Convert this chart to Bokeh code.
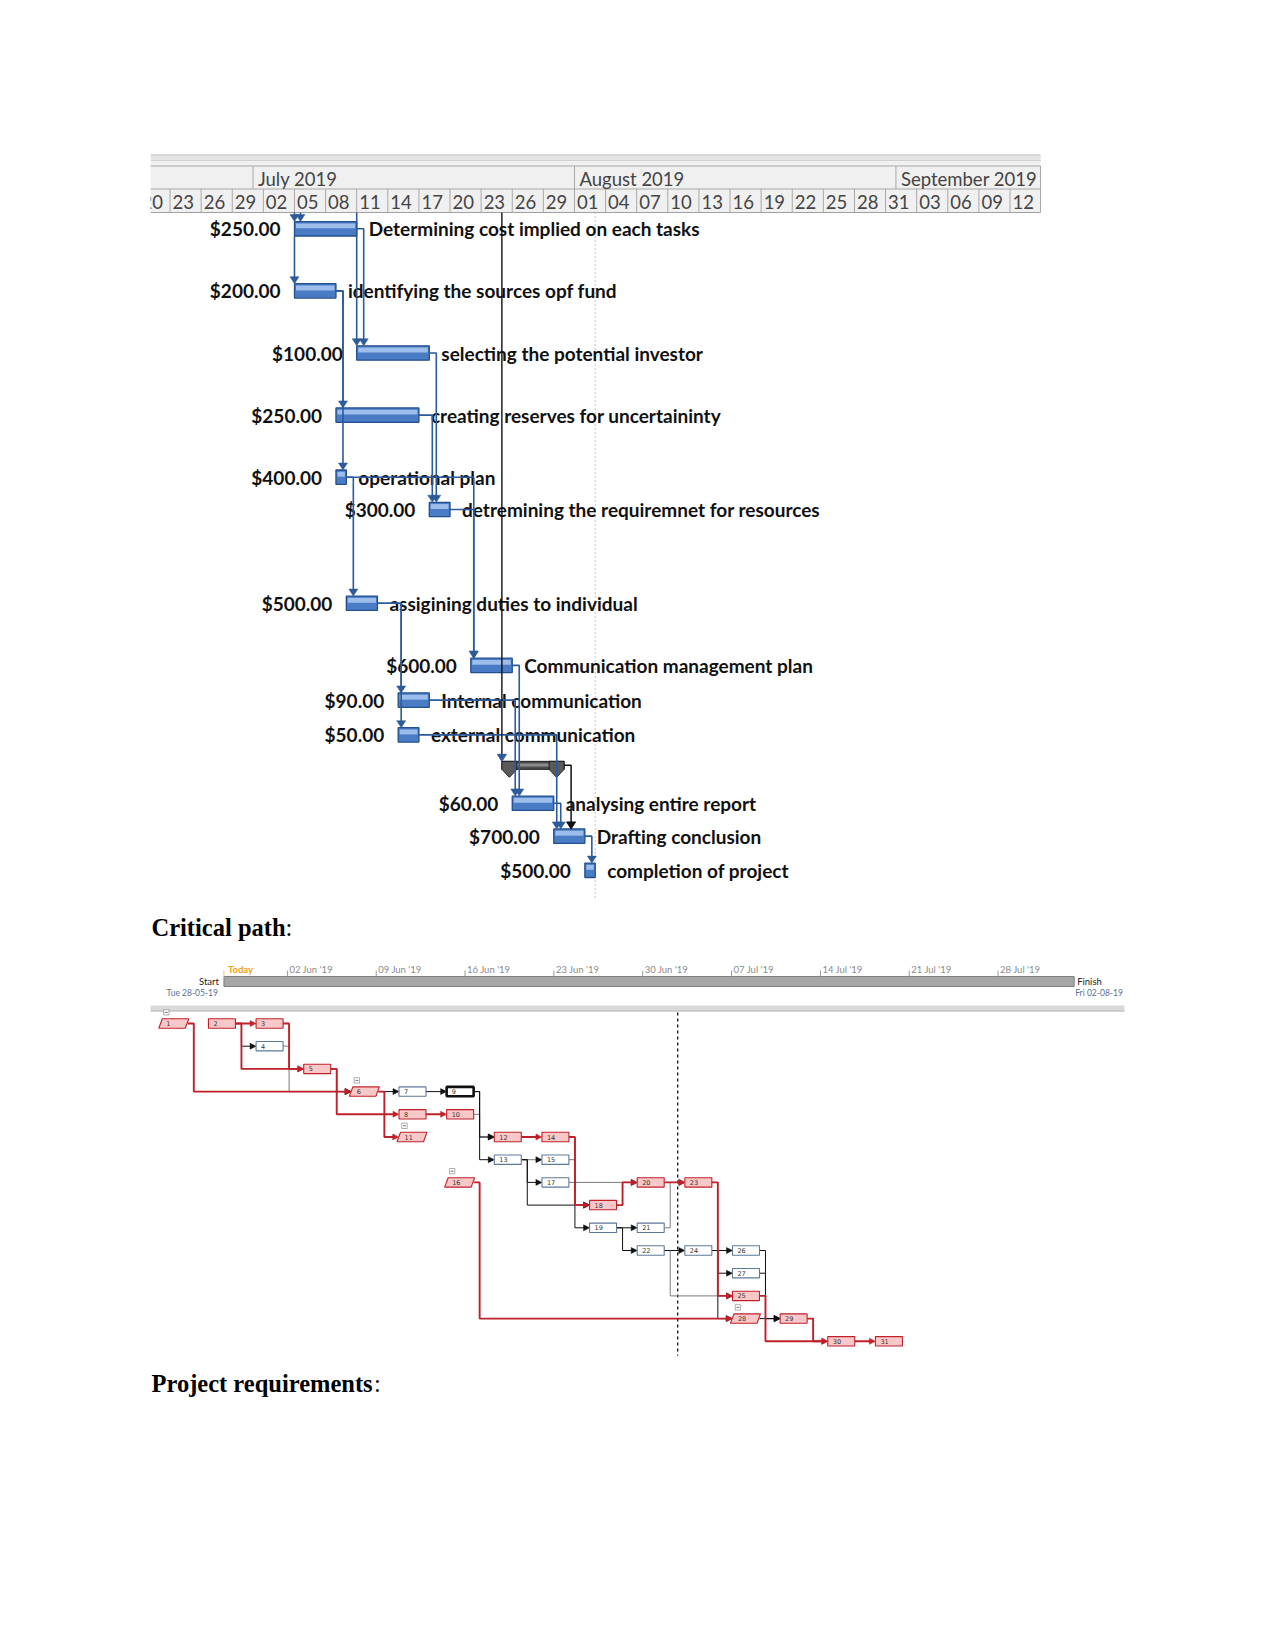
import numpy as np
import pandas as pd
from bokeh.plotting import figure
from bokeh.models import Range1d
from bokeh.core.properties import value
from bokeh.embed import file_html
from bokeh.resources import INLINE

# ======================= DATA =======================
# --- Gantt chart (top) ---
task_names = [
    "Determining cost implied on each tasks",
    "identifying the sources opf fund",
    "selecting the potential investor",
    "creating reserves for uncertaininty",
    "operational plan",
    "detremining the requiremnet for resources",
    "assigining duties to individual",
    "Communication management plan",
    "Internal communication",
    "external communication",
    "analysing entire report",
    "Drafting conclusion",
    "completion of project",
]
task_costs = ["$250.00", "$200.00", "$100.00", "$250.00", "$400.00", "$300.00",
              "$500.00", "$600.00", "$90.00", "$50.00", "$60.00", "$700.00", "$500.00"]
task_start = ["2019-07-05", "2019-07-05", "2019-07-11", "2019-07-09", "2019-07-09", "2019-07-18",
              "2019-07-10", "2019-07-22", "2019-07-15", "2019-07-15", "2019-07-26", "2019-07-30",
              "2019-08-02"]
task_finish = ["2019-07-11", "2019-07-09", "2019-07-18", "2019-07-17", "2019-07-10", "2019-07-20",
               "2019-07-13", "2019-07-26", "2019-07-18", "2019-07-17", "2019-07-30", "2019-08-02",
               "2019-08-03"]
task_row = [0, 1, 2, 3, 4, 4.52, 6.03, 7.03, 7.59, 8.15, 9.25, 9.78, 10.33]
summary_start = "2019-07-25"
summary_finish = "2019-07-31"
summary_row = 8.64
gantt_links = [(1, 2, "SS"), (1, 3, "FS"), (2, 4, "FS"), (2, 5, "FS"), (3, 6, "FS"), (4, 6, "FS"),
               (5, 7, "FS"), (5, 8, "FS"), (6, 8, "FS"), (7, 9, "FS"), (7, 10, "FS"), (8, 11, "FS"),
               (9, 11, "FS"), (10, 12, "FS"), (11, 12, "FS"), (12, 13, "FS")]
external_pred_tasks = [1, 1, 3]          # tasks whose predecessors lie above the view
status_date = "2019-07-25"
finish_marker_date = "2019-08-03"
header_months = ["July 2019", "August 2019", "September 2019"]
header_month_start = ["2019-07-01", "2019-08-01", "2019-09-01"]
header_days = ["2019-06-20", "2019-06-23", "2019-06-26", "2019-06-29", "2019-07-02", "2019-07-05",
               "2019-07-08", "2019-07-11", "2019-07-14", "2019-07-17", "2019-07-20", "2019-07-23",
               "2019-07-26", "2019-07-29", "2019-08-01", "2019-08-04", "2019-08-07", "2019-08-10",
               "2019-08-13", "2019-08-16", "2019-08-19", "2019-08-22", "2019-08-25", "2019-08-28",
               "2019-08-31", "2019-09-03", "2019-09-06", "2019-09-09", "2019-09-12"]

# --- headings ---
heading_texts = ["Critical path", "Project requirements"]

# --- timeline ---
tl_start = "2019-05-28"
tl_finish = "2019-08-02"
tl_today = "2019-05-28"
tl_ticks = ["2019-06-02", "2019-06-09", "2019-06-16", "2019-06-23", "2019-06-30",
            "2019-07-07", "2019-07-14", "2019-07-21", "2019-07-28"]

# --- network diagram (critical path) ---
net_id = list(range(1, 32))
net_col = [0, 1, 2, 2, 3, 4, 5, 5, 6, 6, 5, 7, 7, 8, 8, 6, 8, 9, 9, 10, 10, 10, 11, 11, 12, 12, 12, 12, 13, 14, 15]
net_row = [0, 0, 0, 1, 2, 3, 3, 4, 3, 4, 5, 5, 6, 5, 6, 7, 7, 8, 9, 7, 9, 10, 7, 10, 12, 10, 11, 13, 13, 14, 14]
net_summary = [1, 6, 11, 16, 28]
net_critical = [1, 2, 3, 5, 6, 8, 10, 11, 12, 14, 16, 18, 20, 23, 25, 28, 29, 30, 31]
net_selected = 9
net_links = [(1, 6, "r"), (2, 3, "r"), (2, 4, "k"), (2, 5, "r"), (3, 5, "r"), (4, 6, "g"), (5, 6, "k"),
             (5, 8, "r"), (6, 7, "k"), (6, 11, "r"), (7, 9, "k"), (8, 10, "r"), (9, 12, "k"), (9, 13, "k"),
             (10, 12, "g"), (12, 14, "r"), (13, 15, "g"), (13, 17, "k"), (13, 18, "k"), (14, 18, "r"),
             (14, 19, "k"), (15, 18, "g"), (16, 28, "r"), (17, 20, "g"), (18, 20, "r"), (19, 21, "k"),
             (19, 22, "k"), (20, 23, "r"), (21, 23, "g"), (22, 24, "k"), (22, 25, "g"), (23, 25, "r"),
             (24, 26, "k"), (24, 27, "k"), (24, 28, "k"), (26, 29, "k"), (27, 29, "k"), (25, 30, "r"),
             (28, 29, "k"), (29, 30, "r"), (30, 31, "r")]

# ======================= LAYOUT / SCALES =======================
W, H = 1259, 1600
PX0, PY0 = 0, 0                # page position of the canvas origin
G_X0, G_PXD = 252.5, 10.37     # gantt: page x of 1 Jul 2019, px per day
G_Y0, G_PXR = 228.3, 62.1      # gantt: page y of row 0, px per row
T_X0, T_PXD = 286.9, 12.69     # timeline: page x of 2 Jun 2019, px per day
N_X0, N_PXC = 160.3, 47.64     # network: page x of column 0, px per column
N_Y0, N_PXR = 1023.0, 22.7     # network: page y of row 0, px per row


def xr(origin, scale):
    return Range1d(start=(PX0 - origin) / scale, end=(PX0 + W - origin) / scale)


def yr(origin, scale):
    return Range1d(start=(PY0 + H - origin) / scale, end=(PY0 - origin) / scale)


G0 = pd.Timestamp("2019-07-01")
T0 = pd.Timestamp("2019-06-02")


def gday(s):
    return (pd.Timestamp(s) - G0) / pd.Timedelta(days=1)


def tday(s):
    return (pd.Timestamp(s) - T0) / pd.Timedelta(days=1)


p = figure(width=W, height=H, x_range=xr(0, 1), y_range=yr(0, 1),
           x_axis_type=None, y_axis_type=None, toolbar_location=None,
           output_backend="svg", min_border=0, outline_line_color=None,
           background_fill_color="white", border_fill_color="white")
p.extra_x_ranges = {"g": xr(G_X0, G_PXD), "t": xr(T_X0, T_PXD), "n": xr(N_X0, N_PXC)}
p.extra_y_ranges = {"g": yr(G_Y0, G_PXR), "n": yr(N_Y0, N_PXR)}

LATO = value("Lato")
SERIF = value("Liberation Serif")

# ======================= GANTT HEADER =======================
gk = dict(x_range_name="g")
hl = (150 - G_X0) / G_PXD
hr = (1040 - G_X0) / G_PXD
p.quad(left=[hl], right=[hr], top=[154], bottom=[212], fill_color="#f0f0f0", line_color=None, **gk)
p.quad(left=[hl], right=[hr], top=[154], bottom=[160], fill_color="#e4e4e4", line_color=None, **gk)
p.multi_line(xs=[[hl, hr]] * 5, ys=[[154.5, 154.5], [160, 160], [165.5, 165.5], [188.5, 188.5], [212, 212]],
             line_color=["#c8c8c8", "#d0d0d0", "#a8a8a8", "#a8a8a8", "#a0a0a0"],
             line_width=[1, 1, 1, 1, 1.2], **gk)
ms = np.array([gday(s) for s in header_month_start])
p.segment(x0=ms, y0=165.5, x1=ms, y1=188.5, line_color="#a8a8a8", line_width=1, **gk)
p.text(x=ms, y=178, text=header_months, x_offset=5, text_baseline="middle", text_align="left",
       text_font=LATO, text_font_size="18.5px", text_color="#444444", **gk)
ds = np.array([gday(s) for s in header_days])
p.segment(x0=ds, y0=188.5, x1=ds, y1=212, line_color="#a8a8a8", line_width=1, **gk)
p.segment(x0=[hr], y0=[165.5], x1=[hr], y1=[212], line_color="#a8a8a8", line_width=1, **gk)
p.text(x=ds, y=201, text=[pd.Timestamp(s).strftime("%d") for s in header_days], x_offset=2.5,
       text_baseline="middle", text_align="left", text_font=LATO, text_font_size="18.5px",
       text_color="#444444", **gk)
# clip header at its left edge
p.quad(left=[PX0], right=[150], top=[150], bottom=[214], fill_color="white", line_color=None)

# ======================= GANTT BODY =======================
gg = dict(x_range_name="g", y_range_name="g")
gs = np.array([gday(s) for s in task_start])
gf = np.array([gday(s) for s in task_finish])
gr = np.array(task_row, float)
hb = 7.2 / G_PXR
hdr_bottom = (212 - G_Y0) / G_PXR

# finish marker (dotted)
fd = gday(finish_marker_date)
p.segment(x0=[fd], y0=[hdr_bottom], x1=[fd], y1=[(900 - G_Y0) / G_PXR], line_color="#9a9a9a",
          line_width=1.2, line_dash="1 3", **gg)

# bars
p.quad(left=gs, right=gf, top=gr - hb, bottom=gr + hb, fill_color="#4a7cc6", line_color="#234f8e",
       line_width=1.3, **gg)
p.quad(left=gs + 1.5 / G_PXD, right=gf - 1.5 / G_PXD, top=gr - hb + 1.8 / G_PXR, bottom=gr - 0.5 / G_PXR,
       fill_color="#9dbdea", line_color=None, **gg)

# summary bar
ss, sf, sr = gday(summary_start), gday(summary_finish), summary_row
sh = 4.0 / G_PXR
p.quad(left=[ss], right=[sf], top=[sr - sh], bottom=[sr + sh], fill_color="#4d4d4d", line_color="#1e1e1e",
       line_width=1, **gg)
p.quad(left=[ss + 10 / G_PXD], right=[sf - 10 / G_PXD], top=[sr - 1.8 / G_PXR], bottom=[sr + 1.2 / G_PXR],
       fill_color="#8c8c8c", line_color=None, **gg)
fx, fy = [], []
for x0, sgn in [(ss, 1), (sf, -1)]:
    a = x0
    b = x0 + sgn * 15 / G_PXD
    m = x0 + sgn * 7.5 / G_PXD
    fx.append([a, b, b, m, a])
    fy.append([sr - sh, sr - sh, sr + sh, sr + sh + 8 / G_PXR, sr + sh])
p.patches(xs=fx, ys=fy, fill_color="#5a5a5a", line_color="#1e1e1e", line_width=1, **gg)

# texts
p.text(x=gs, y=gr, text=task_costs, x_offset=-14, text_align="right", text_baseline="middle",
       text_font=LATO, text_font_style="bold", text_font_size="19px", text_color="#111111", **gg)
p.text(x=gf, y=gr, text=task_names, x_offset=12, text_align="left", text_baseline="middle",
       text_font=LATO, text_font_style="bold", text_font_size="19px", text_color="#111111", **gg)

# links
BLUE = "#2d5a98"
lx, ly, axs, ays = [], [], [], []


def down_arrow(x, ytip):
    w, h = 4.5, 7.0
    return [x - w / G_PXD, x + w / G_PXD, x], [ytip - h / G_PXR, ytip - h / G_PXR, ytip]


for a, b, kind in gantt_links:
    i, j = a - 1, b - 1
    tip = gr[j] - hb
    if kind == "SS":
        vx = gs[i]
        lx.append([vx, vx])
        ly.append([gr[i] + hb, tip - 5 / G_PXR])
    else:
        vx = max(gf[i] + 7 / G_PXD, gs[j] + 3 / G_PXD)
        lx.append([gf[i], vx, vx])
        ly.append([gr[i], gr[i], tip - 5 / G_PXR])
    ax_, ay_ = down_arrow(vx, tip)
    axs.append(ax_)
    ays.append(ay_)

seen = {}
for t in external_pred_tasks:
    j = t - 1
    k = seen.get(t, 0)
    seen[t] = k + 1
    vx = gs[j] + k * 6 / G_PXD
    tip = gr[j] - hb
    lx.append([vx, vx])
    ly.append([hdr_bottom, tip - 5 / G_PXR])
    ax_, ay_ = down_arrow(vx, tip)
    axs.append(ax_)
    ays.append(ay_)

p.multi_line(xs=lx, ys=ly, line_color=BLUE, line_width=1.6, **gg)
p.patches(xs=axs, ys=ays, fill_color=BLUE, line_color=BLUE, line_width=0.5, **gg)

# status line into summary
sd = gday(status_date)
p.segment(x0=[sd], y0=[hdr_bottom], x1=[sd], y1=[sr - sh - 5 / G_PXR], line_color="#111111",
          line_width=1.4, **gg)
ax_, ay_ = down_arrow(sd, sr - sh)
p.patches(xs=[ax_], ys=[ay_], fill_color=BLUE, line_color=BLUE, **gg)

# summary -> drafting conclusion (black link)
vx = max(sf + 7 / G_PXD, gs[11] + 3 / G_PXD)
p.line(x=[sf, vx, vx], y=[sr, sr, gr[11] - hb - 5 / G_PXR], line_color="#111111", line_width=1.5, **gg)
ax_, ay_ = down_arrow(vx, gr[11] - hb)
p.patches(xs=[ax_], ys=[ay_], fill_color="#111111", line_color="#111111", **gg)

# ======================= HEADINGS =======================
HEAD_Y = [926.5, 1382.5]
p.text(x=[151, 151], y=HEAD_Y, text=heading_texts, text_align="left", text_baseline="alphabetic",
       text_font=SERIF, text_font_style="bold", text_font_size="24.5px", text_color="#000000")
colon_x = [151 + 5472 * 0.0245, 151 + 9080 * 0.0245]
p.text(x=colon_x, y=HEAD_Y, text=[":", ":"], text_align="left", text_baseline="alphabetic",
       text_font=SERIF, text_font_size="24.5px", text_color="#000000")

# ======================= TIMELINE =======================
tk = dict(x_range_name="t")
t0, t1 = tday(tl_start), tday(tl_finish) + 1
p.quad(left=[t0], right=[t1], top=[976], bottom=[986], fill_color="#a6a6a6", line_color="#7f7f7f",
       line_width=1, **tk)
tt = np.array([tday(s) for s in tl_ticks])
p.segment(x0=tt, y0=970, x1=tt, y1=976, line_color="#9a9a9a", line_width=1, **tk)
p.text(x=tt, y=969, text=[pd.Timestamp(s).strftime("%d %b '%y") for s in tl_ticks], x_offset=2,
       text_align="left", text_baseline="middle", text_font=LATO, text_font_size="9.5px",
       text_color="#8a8a8a", **tk)
td = tday(tl_today)
p.segment(x0=[td], y0=[970], x1=[td], y1=[976], line_color="#f3c27a", line_width=1, **tk)
p.text(x=[td], y=[969], text=["Today"], x_offset=4, text_align="left", text_baseline="middle",
       text_font=LATO, text_font_style="bold", text_font_size="9.5px", text_color="#f0a020", **tk)
p.text(x=[t0], y=[981], text=["Start"], x_offset=-5, text_align="right", text_baseline="middle",
       text_font=LATO, text_font_size="9.5px", text_color="#222222", **tk)
p.text(x=[t0], y=[992.5], text=[pd.Timestamp(tl_start).strftime("%a %d-%m-%y")], x_offset=-6,
       text_align="right", text_baseline="middle", text_font=LATO, text_font_size="8.5px",
       text_color="#5b7090", **tk)
p.text(x=[t1], y=[981], text=["Finish"], x_offset=3, text_align="left", text_baseline="middle",
       text_font=LATO, text_font_size="9.5px", text_color="#222222", **tk)
p.text(x=[t1], y=[992.5], text=[pd.Timestamp(tl_finish).strftime("%a %d-%m-%y")], x_offset=1,
       text_align="left", text_baseline="middle", text_font=LATO, text_font_size="8.5px",
       text_color="#5b7090", **tk)

# separator band above the network diagram
p.quad(left=[150], right=[1124], top=[1005], bottom=[1010], fill_color="#dadada", line_color=None)
p.segment(x0=[150], y0=[1010.5], x1=[1124], y1=[1010.5], line_color="#a6a6a6", line_width=1)

# ======================= NETWORK DIAGRAM =======================
nn = dict(x_range_name="n", y_range_name="n")
nc = np.array(net_col, float)
nr = np.array(net_row, float)
BW = 27 / N_PXC
BHh = 4.7 / N_PXR
RED, PINK, NBLUE = "#c0202a", "#f8c8c8", "#5d7a99"

# page-break line
pb = 10.85
p.segment(x0=[pb], y0=[(1012 - N_Y0) / N_PXR], x1=[pb], y1=[(1355 - N_Y0) / N_PXR],
          line_color="#111111", line_width=1.3, line_dash="3 3", **nn)

# links
src_r = nc + 27 / N_PXC
link_style = {"g": ("#7a7a7a", 1.0, "#111111"), "k": ("#111111", 1.0, "#111111"), "r": (RED, 1.9, RED)}
for cls in ["g", "k", "r"]:
    xs_, ys_, axs_, ays_ = [], [], [], []
    for a, b, c in net_links:
        if c != cls:
            continue
        i, j = a - 1, b - 1
        bx = src_r[i] + 6 / N_PXC
        tx = nc[j] - (0.3 / N_PXC if b in net_summary else 0)
        xs_.append([src_r[i], bx, bx, tx - 5 / N_PXC])
        ys_.append([nr[i], nr[i], nr[j], nr[j]])
        axs_.append([tx - 6 / N_PXC, tx - 6 / N_PXC, tx])
        ays_.append([nr[j] - 3 / N_PXR, nr[j] + 3 / N_PXR, nr[j]])
    col, lw, acol = link_style[cls]
    p.multi_line(xs=xs_, ys=ys_, line_color=col, line_width=lw, **nn)
    p.patches(xs=axs_, ys=ays_, fill_color=acol, line_color=acol, line_width=0.5, **nn)

# nodes
box_idx = [k for k, nid in enumerate(net_id) if nid not in net_summary]
para_idx = [k for k, nid in enumerate(net_id) if nid in net_summary]
fills = [PINK if net_id[k] in net_critical else "white" for k in box_idx]
lines = ["#111111" if net_id[k] == net_selected else (RED if net_id[k] in net_critical else NBLUE)
         for k in box_idx]
lws = [2.6 if net_id[k] == net_selected else 1.1 for k in box_idx]
p.quad(left=nc[box_idx], right=nc[box_idx] + BW, top=nr[box_idx] - BHh, bottom=nr[box_idx] + BHh,
       fill_color=fills, line_color=lines, line_width=lws, **nn)
pxs, pys = [], []
for k in para_idx:
    L = nc[k] - 2 / N_PXC
    pxs.append([L, L + 3.5 / N_PXC, L + 30 / N_PXC, L + 26.5 / N_PXC])
    pys.append([nr[k] + BHh, nr[k] - BHh, nr[k] - BHh, nr[k] + BHh])
p.patches(xs=pxs, ys=pys, fill_color=PINK, line_color=RED, line_width=1.1, **nn)

# collapse boxes above summary nodes
cx = nc[para_idx] + 5.5 / N_PXC
cy = nr[para_idx] - BHh - 6.5 / N_PXR
p.quad(left=cx - 2.7 / N_PXC, right=cx + 2.7 / N_PXC, top=cy - 2.7 / N_PXR, bottom=cy + 2.7 / N_PXR,
       fill_color="white", line_color="#9a9a9a", line_width=0.8, **nn)
p.segment(x0=cx - 1.5 / N_PXC, y0=cy, x1=cx + 1.5 / N_PXC, y1=cy, line_color="#555555", line_width=0.8, **nn)

# node labels
lab_x = np.array([nc[k] + (5.5 if net_id[k] in net_summary else 5) / N_PXC for k in range(len(net_id))])
p.text(x=lab_x, y=nr, text=[str(v) for v in net_id], text_align="left", text_baseline="middle",
       text_font=value("DejaVu Sans"), text_font_size="6.5px", text_color="#333333", **nn)

open("out.html", "w").write(file_html(p, INLINE))
